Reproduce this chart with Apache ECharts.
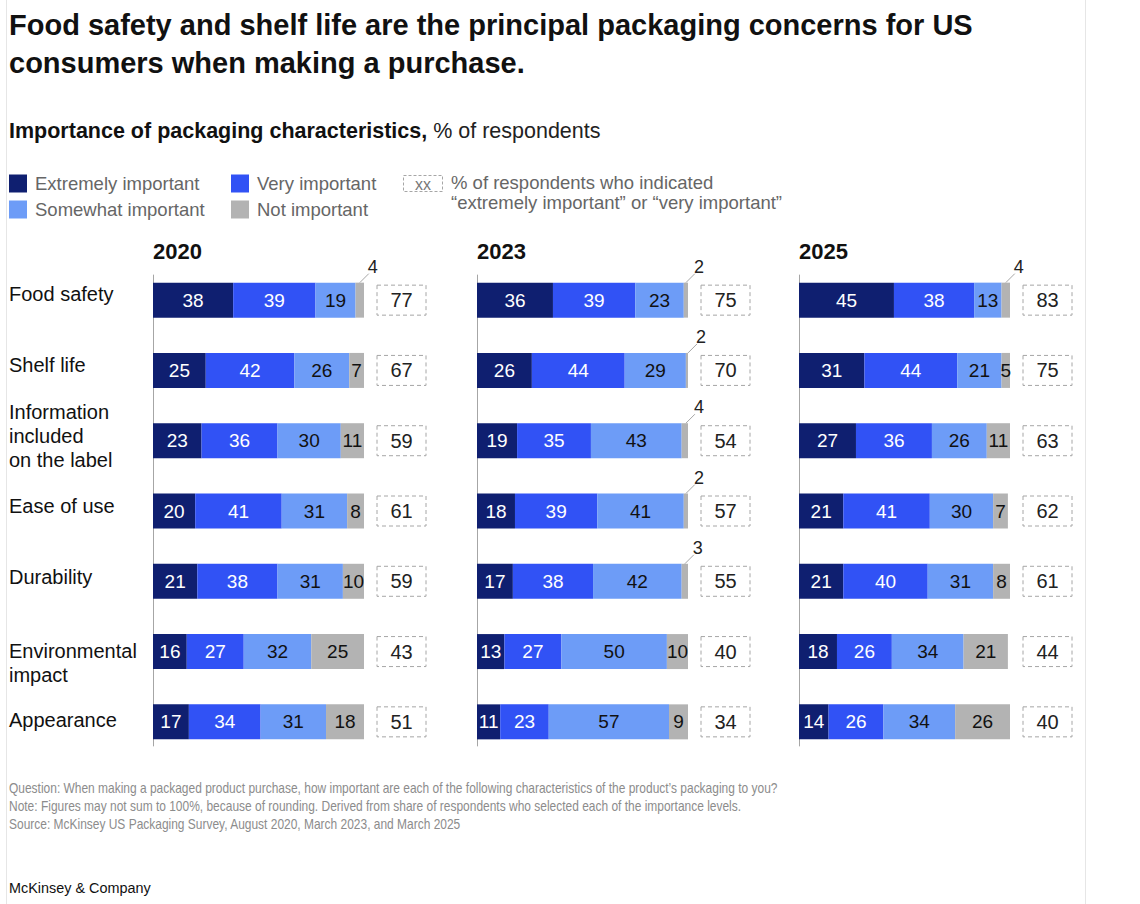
<!DOCTYPE html>
<html lang="en">
<head>
<meta charset="UTF-8" />
<title>Packaging concerns for US consumers</title>
<script src="https://cdn.jsdelivr.net/npm/echarts@6/dist/echarts.min.js"></script>
<style>
	html, body { margin: 0; padding: 0; background: #fff; }
	#main { width: 1140px; height: 904px; }
</style>
</head>
<body>
<div id="main"></div>
<script>
// data
var categories = ['Food safety', 'Shelf life', 'Information\nincluded\non the label', 'Ease of use', 'Durability', 'Environmental\nimpact', 'Appearance'];
var years = ['2020', '2023', '2025'];
var seriesNames = ['Extremely important', 'Very important', 'Somewhat important', 'Not important'];

var extreme2020 = [38, 25, 23, 20, 21, 16, 17];
var very2020 = [39, 42, 36, 41, 38, 27, 34];
var somewhat2020 = [19, 26, 30, 31, 31, 32, 31];
var notImp2020 = [4, 7, 11, 8, 10, 25, 18];
var total2020 = [77, 67, 59, 61, 59, 43, 51];

var extreme2023 = [36, 26, 19, 18, 17, 13, 11];
var very2023 = [39, 44, 35, 39, 38, 27, 23];
var somewhat2023 = [23, 29, 43, 41, 42, 50, 57];
var notImp2023 = [2, 2, 4, 2, 3, 10, 9];
var total2023 = [75, 70, 54, 57, 55, 40, 34];

var extreme2025 = [45, 31, 27, 21, 21, 18, 14];
var very2025 = [38, 44, 36, 41, 40, 26, 26];
var somewhat2025 = [13, 21, 26, 30, 31, 34, 34];
var notImp2025 = [4, 5, 11, 7, 8, 21, 26];
var total2025 = [83, 75, 63, 62, 61, 44, 40];

var panels = [
	[extreme2020, very2020, somewhat2020, notImp2020, total2020],
	[extreme2023, very2023, somewhat2023, notImp2023, total2023],
	[extreme2025, very2025, somewhat2025, notImp2025, total2025]
];

var colors = ['#0f1f70', '#3152f5', '#6d9cf7', '#b3b3b3'];
var labelColors = ['#fff', '#fff', '#111', '#111'];
var FONT = '"Liberation Sans", Arial, sans-serif';
var gridLeft = [153, 477, 799];
var BAR_H = 35;
// vertical nudge of the row names against the bar centre
var nameShift = [-6, -5, -5, -5, -4, 11, -2];

var mychart = echarts.init(document.getElementById('main'), null, { renderer: 'svg' });

var grids = [], xAxes = [], yAxes = [], series = [];

panels.forEach(function (p, g) {
	grids.push({ left: gridLeft[g], width: 211, top: 265, height: 492, outerBoundsMode: 'none', containLabel: false });
	xAxes.push({ type: 'value', gridIndex: g, min: 0, max: 100, show: false });
	yAxes.push({
		type: 'category', gridIndex: g, inverse: true, data: categories,
		axisLine: { show: false }, axisTick: { show: false }, axisLabel: { show: false }
	});

	// stacked bars
	for (var s = 0; s < 4; s++) {
		series.push({
			name: seriesNames[s], type: 'bar', stack: 'y' + g,
			xAxisIndex: g, yAxisIndex: g, barWidth: BAR_H,
			data: p[s],
			itemStyle: { color: colors[s] },
			label: {
				show: true, position: 'inside',
				color: labelColors[s], fontFamily: FONT, fontSize: 19,
				formatter: function (d) { return d.value < 5 && d.seriesName === 'Not important' ? '' : d.value; }
			},
			emphasis: { disabled: true }
		});
	}

	// vertical axis line, a bit shorter than the grid; row names for the first panel
	series.push({
		type: 'custom', xAxisIndex: g, yAxisIndex: g, silent: true,
		data: categories.map(function (c, i) { return [0, i]; }),
		renderItem: function (params, api) {
			var row = api.value(1);
			var c = api.coord([0, row]);
			var kids = [];
			if (row === 0) {
				var last = api.coord([0, categories.length - 1]);
				kids.push({ type: 'line', shape: { x1: c[0] + 0.5, y1: c[1] - BAR_H / 2 - 8, x2: c[0] + 0.5, y2: last[1] + BAR_H / 2 + 7 }, style: { stroke: '#a6a6a6', lineWidth: 1 } });
			}
			if (g === 0) {
				kids.push({ type: 'text', style: { text: categories[row], x: 9, y: c[1] + nameShift[row], align: 'left', verticalAlign: 'middle', lineHeight: 24, font: '20px ' + FONT, fill: '#111' } });
			}
			return { type: 'group', children: kids };
		}
	});

	// small "not important" values shown above the bar with a leader line
	var small = [];
	p[3].forEach(function (v, i) {
		if (v < 5) small.push([p[0][i] + p[1][i] + p[2][i] + v, i, v]);
	});
	series.push({
		type: 'custom', xAxisIndex: g, yAxisIndex: g, silent: true,
		data: small,
		renderItem: function (params, api) {
			var end = api.coord([api.value(0), api.value(1)]);
			var w = api.size([api.value(2), 0])[0];
			var x = end[0] - w / 2, y = end[1] - BAR_H / 2;
			return {
				type: 'group',
				children: [
					{ type: 'line', shape: { x1: x, y1: y, x2: x + 9, y2: y - 9 }, style: { stroke: '#a6a6a6', lineWidth: 1 } },
					{ type: 'text', style: { text: String(api.value(2)), x: x + 8, y: y - 7, align: 'left', verticalAlign: 'bottom', font: '18px ' + FONT, fill: '#222' } }
				]
			};
		}
	});

	// dashed boxes with the "extremely + very" share
	series.push({
		type: 'custom', xAxisIndex: g, yAxisIndex: g, silent: true,
		data: p[4].map(function (t, i) { return [i, t]; }),
		encode: { y: 0 },
		renderItem: function (params, api) {
			var c = api.coord([100, api.value(0)]);
			var x0 = c[0] + 13, w = 49, h = 30;
			return {
				type: 'group',
				children: [
					{ type: 'rect', shape: { x: x0, y: c[1] - h / 2, width: w, height: h }, style: { fill: 'none', stroke: '#a6a6a6', lineWidth: 1, lineDash: [4, 3] } },
					{ type: 'text', style: { text: String(api.value(1)), x: x0 + w / 2, y: c[1], align: 'center', verticalAlign: 'middle', font: '20px ' + FONT, fill: '#222' } }
				]
			};
		}
	});
});

var graphics = [
	{ type: 'line', shape: { x1: 6.5, y1: 0, x2: 6.5, y2: 904 }, style: { stroke: '#e6e6e6', lineWidth: 1 } },
	{ type: 'line', shape: { x1: 1085.5, y1: 0, x2: 1085.5, y2: 904 }, style: { stroke: '#e6e6e6', lineWidth: 1 } },
	// legend: dashed xx box
	{ type: 'rect', shape: { x: 403.5, y: 175.5, width: 39, height: 16 }, style: { fill: 'none', stroke: '#a6a6a6', lineDash: [3, 2], lineWidth: 1 } },
	{ type: 'text', style: { text: 'xx', x: 423, y: 184, align: 'center', verticalAlign: 'middle', font: '16px ' + FONT, fill: '#777' } },
	{ type: 'text', style: { text: '% of respondents who indicated\n\u201cextremely important\u201d or \u201cvery important\u201d', x: 451, y: 173, lineHeight: 19.5, font: '18.5px ' + FONT, fill: '#666' } },
	// footer
	{ type: 'text', x: 9, y: 779, scaleX: 0.855, style: { text: 'Question: When making a packaged product purchase, how important are each of the following characteristics of the product\u2019s packaging to you?\nNote: Figures may not sum to 100%, because of rounding. Derived from share of respondents who selected each of the importance levels.\nSource: McKinsey US Packaging Survey, August 2020, March 2023, and March 2025', x: 0, y: 0, lineHeight: 18, font: '14px ' + FONT, fill: '#8c8c8c' } },
	{ type: 'text', x: 9, y: 879, scaleX: 0.93, style: { text: 'McKinsey & Company', x: 0, y: 0, font: '15.5px ' + FONT, fill: '#111' } }
];
years.forEach(function (y, g) {
	graphics.push({ type: 'text', style: { text: y, x: gridLeft[g], y: 240, font: 'bold 22px ' + FONT, fill: '#111' } });
});

mychart.setOption({
	animation: false,
	title: [
		{
			text: 'Food safety and shelf life are the principal packaging concerns for US\nconsumers when making a purchase.',
			left: 9, top: 6, padding: 0,
			textStyle: { fontFamily: FONT, fontSize: 29, fontWeight: 'bold', color: '#111', lineHeight: 38 }
		},
		{
			text: '{b|Importance of packaging characteristics,} % of respondents',
			left: 9, top: 120, padding: 0,
			textStyle: { fontFamily: FONT, fontSize: 21.5, fontWeight: 'normal', color: '#222', rich: { b: { fontFamily: FONT, fontSize: 21.5, fontWeight: 'bold', color: '#111' } } }
		}
	],
	legend: [
		{
			data: ['Extremely important', 'Somewhat important'], orient: 'vertical',
			left: 9, top: 174, padding: 0, icon: 'rect', itemWidth: 18, itemHeight: 18, itemGap: 7,
			selectedMode: false,
			textStyle: { fontFamily: FONT, fontSize: 18.5, color: '#666', padding: [0, 0, 0, 3] }
		},
		{
			data: ['Very important', 'Not important'], orient: 'vertical',
			left: 231, top: 174, padding: 0, icon: 'rect', itemWidth: 18, itemHeight: 18, itemGap: 7,
			selectedMode: false,
			textStyle: { fontFamily: FONT, fontSize: 18.5, color: '#666', padding: [0, 0, 0, 3] }
		}
	],
	grid: grids,
	xAxis: xAxes,
	yAxis: yAxes,
	series: series,
	graphic: graphics
});
</script>
</body>
</html>
